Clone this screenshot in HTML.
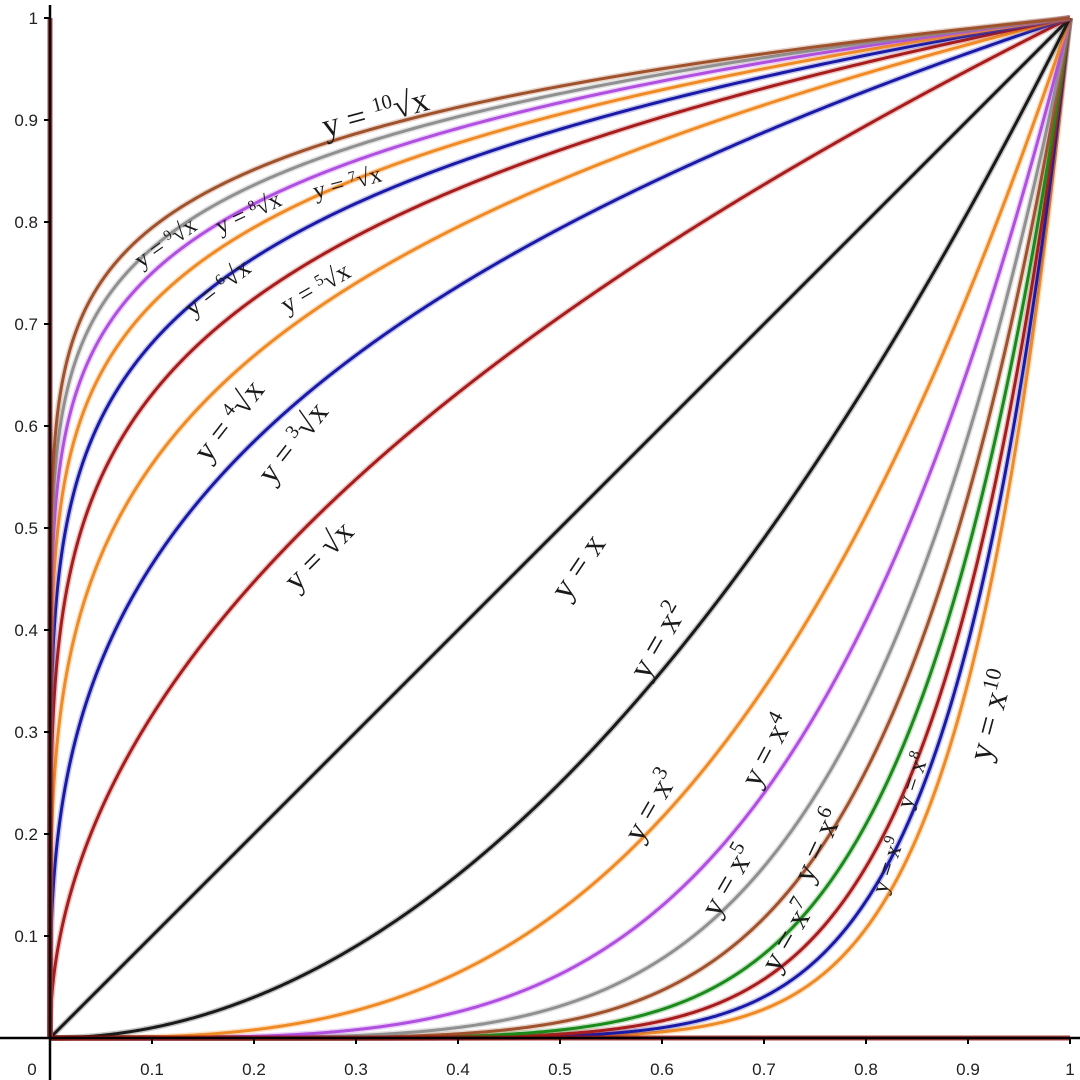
<!DOCTYPE html>
<html><head><meta charset="utf-8"><style>
html,body{margin:0;padding:0;background:#fff;}
svg{display:block;}
.t{font-family:"Liberation Sans",sans-serif;font-size:17px;fill:#222;}
.l{font-family:"Liberation Serif",serif;fill:#1a1a1a;}
</style></head><body>
<svg id="s" width="1080" height="1080" viewBox="0 0 1080 1080" xmlns="http://www.w3.org/2000/svg">
<rect width="1080" height="1080" fill="#fff"/>
<g id="curves"></g>
<line x1="50" y1="5" x2="50" y2="1080" stroke="#000" stroke-width="2.5"/>
<line x1="0" y1="1038" x2="1080" y2="1038" stroke="#000" stroke-width="2.5"/>
<g id="ticks"></g>
<g id="labels"></g>
</svg>
<script>
var X0=50,Y0=1038,U=1020;
function px(x){return X0+U*x;} function py(y){return Y0-U*y;}
var g=document.getElementById('curves'),ns='http://www.w3.org/2000/svg';
function curve(p,col,w){
  var d='';var N=600;
  for(var i=0;i<=N;i++){var t=i/N;var x,y;
    if(p>=1){x=t;y=Math.pow(t,p);} else {y=t;x=Math.pow(t,1/p);}
    d+=(i?'L':'M')+px(x).toFixed(2)+' '+py(y).toFixed(2);}
  var h=document.createElementNS(ns,'path');h.setAttribute('d',d);h.setAttribute('fill','none');
  h.setAttribute('stroke',col);h.setAttribute('stroke-opacity','0.25');h.setAttribute('stroke-width',w+3);g.appendChild(h);
  var e=document.createElementNS(ns,'path');e.setAttribute('d',d);e.setAttribute('fill','none');
  e.setAttribute('stroke',col);e.setAttribute('stroke-width',w);g.appendChild(e);
}
var brown='#a0522d',gray='#909090',violet='#b04fe0',orange='#f08a24',blue='#1a1aa8',dred='#a81c1c',green='#1a8a1a',black='#1a1a1a';
var cs=[
[10,orange],[9,blue],[8,dred],[7,green],[6,brown],[5,gray],[4,violet],[3,orange],[2,black],[1,black],
[1/2,dred],[1/3,blue],[1/4,orange],[1/5,dred],[1/6,blue],[1/7,orange],[1/8,violet],[1/9,gray],[1/10,brown]];
cs.forEach(function(c){curve(c[0],c[1],3);});
var a=document.createElementNS(ns,'path');a.setAttribute('d','M50 1038 L1070 1038 M50 1038 L50 18');a.setAttribute('stroke','#a01010');a.setAttribute('stroke-width','5');a.setAttribute('fill','none');a.setAttribute('stroke-opacity','0.8');g.appendChild(a);
var tk=document.getElementById('ticks'),h='';
for(var i=1;i<=10;i++){var v=i/10,lab=i==10?'1':'0.'+i;
 h+='<line x1="'+px(v)+'" y1="1038" x2="'+px(v)+'" y2="1044" stroke="#000" stroke-width="2"/>';
 h+='<text class="t" x="'+px(v)+'" y="1075" text-anchor="middle">'+lab+'</text>';
 h+='<line x1="44" y1="'+py(v)+'" x2="50" y2="'+py(v)+'" stroke="#000" stroke-width="2"/>';
 h+='<text class="t" x="38" y="'+(py(v)+6)+'" text-anchor="end">'+lab+'</text>';}
h+='<text class="t" x="32" y="1075" text-anchor="middle">0</text>';
tk.innerHTML=h;
var L=[
['y = <tspan font-size="0.6em" dy="-12">10</tspan><tspan dy="12">√x</tspan>',375,112,-15,34],
['y = <tspan font-size="0.6em" dy="-8">9</tspan><tspan dy="8">√x</tspan>',165,242,-35,24],
['y = <tspan font-size="0.6em" dy="-8">8</tspan><tspan dy="8">√x</tspan>',248,212,-25,24],
['y = <tspan font-size="0.6em" dy="-8">7</tspan><tspan dy="8">√x</tspan>',347,182,-15,24],
['y = <tspan font-size="0.6em" dy="-8">6</tspan><tspan dy="8">√x</tspan>',217,287,-38,26],
['y = <tspan font-size="0.6em" dy="-8">5</tspan><tspan dy="8">√x</tspan>',315,287,-30,26],
['y = <tspan font-size="0.6em" dy="-11">4</tspan><tspan dy="11">√x</tspan>',228,420,-52,32],
['y = <tspan font-size="0.6em" dy="-11">3</tspan><tspan dy="11">√x</tspan>',292,442,-52,32],
['y = √x',318,555,-45,32],
['y = x',577,566,-56,34],
['y = x<tspan font-size="0.65em" dy="-12">2</tspan>',657,640,-60,34],
['y = x<tspan font-size="0.65em" dy="-12">3</tspan>',650,805,-60,32],
['y = x<tspan font-size="0.65em" dy="-12">4</tspan>',766,750,-62,32],
['y = x<tspan font-size="0.65em" dy="-12">5</tspan>',727,880,-60,32],
['y = x<tspan font-size="0.65em" dy="-12">6</tspan>',817,845,-65,32],
['y = x<tspan font-size="0.65em" dy="-12">7</tspan>',787,935,-60,32],
['y = x<tspan font-size="0.65em" dy="-9">8</tspan>',912,780,-72,24],
['y = x<tspan font-size="0.65em" dy="-9">9</tspan>',887,865,-72,24],
['y = x<tspan font-size="0.65em" dy="-12">10</tspan>',990,715,-75,34]];
var lg=document.getElementById('labels'),s='';
L.forEach(function(l){s+='<text class="l" text-anchor="middle" font-size="'+l[4]+'" transform="translate('+l[1]+' '+l[2]+') rotate('+l[3]+')" y="'+(l[4]*0.35)+'">'+l[0]+'</text>';});
lg.innerHTML=s;
</script>
</body></html>
